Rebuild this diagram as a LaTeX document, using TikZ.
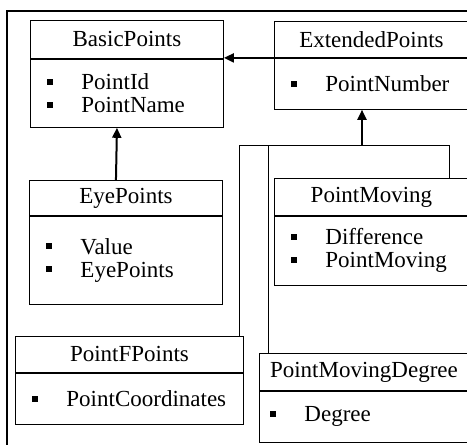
\documentclass[tikz,border=0pt]{standalone}
\usepackage{fontspec}
\setmainfont{Liberation Serif}
\usetikzlibrary{positioning,arrows.meta}
\newcommand{\sqitem}[1]{\rule[5pt]{6pt}{6pt}\hspace{28pt}#1}
\begin{document}
\begin{tikzpicture}[x=1pt,y=-1pt,font=\fontsize{23}{23}\selectfont,
  classhead/.style={draw,line width=0.9pt,anchor=north west,inner sep=0pt},
  classbody/.style={draw,line width=0.9pt,inner xsep=17pt,inner ysep=0pt,align=left},
  isa/.style={line width=2pt,-{Triangle[length=10pt,width=9pt]}},
  tree/.style={line width=0.9pt}]
\useasboundingbox (0,0) rectangle (467,445);
\clip (0,0) rectangle (467,445);
\draw[line width=1.2pt] (7,11) rectangle (480,460);
\node[classhead,minimum width=193,minimum height=38] (basic) at (30,20) {BasicPoints};
\node[classbody,below=0pt of basic,minimum width=193,minimum height=68,text width=159] (basicbody) {\sqitem{PointId}\\\sqitem{PointName}};
\node[classhead,minimum width=194,minimum height=36] (ext) at (274,21) {ExtendedPoints};
\node[classbody,below=0pt of ext,minimum width=194,minimum height=51,text width=160] (extbody) {\sqitem{PointNumber}};
\node[classhead,minimum width=193,minimum height=35] (eye) at (29,180) {EyePoints};
\node[classbody,below=0pt of eye,minimum width=193,minimum height=88,text width=159] (eyebody) {\sqitem{Value}\\\sqitem{EyePoints}\\[11pt]};
\node[classhead,minimum width=194,minimum height=37] (moving) at (274,178) {PointMoving};
\node[classbody,below=0pt of moving,minimum width=194,minimum height=69,text width=160] (movingbody) {\sqitem{Difference}\\\sqitem{PointMoving}};
\node[classhead,minimum width=228,minimum height=36] (ffpts) at (15,336) {PointFPoints};
\node[classbody,below=0pt of ffpts,minimum width=228,minimum height=51,text width=194] (ffptsbody) {\sqitem{PointCoordinates}};
\node[classhead,minimum width=209,minimum height=37] (degree) at (259,353) {PointMovingDegree};
\node[classbody,below=0pt of degree,minimum width=209,minimum height=51,inner xsep=11pt,text width=187] (degreebody) {\sqitem{Degree}};
\coordinate (fork) at (362,145);
\coordinate (forkl) at (239,145);
\coordinate (forkm) at (268,145);
\coordinate (forkr) at (449,145);
\draw[isa] (ext.south west) -- (ext.south west -| basicbody.north east);
\draw[isa] ([xshift=-10pt]eye.north) -- ([xshift=-10pt]basicbody.south);
\draw[isa] (fork) -- (fork |- extbody.south);
\draw[tree] (forkl |- ffpts.north) -- (forkl) -- (forkr) -- (forkr |- moving.north);
\draw[tree] (forkm) -- (forkm |- degree.north);
\end{tikzpicture}
\end{document}
